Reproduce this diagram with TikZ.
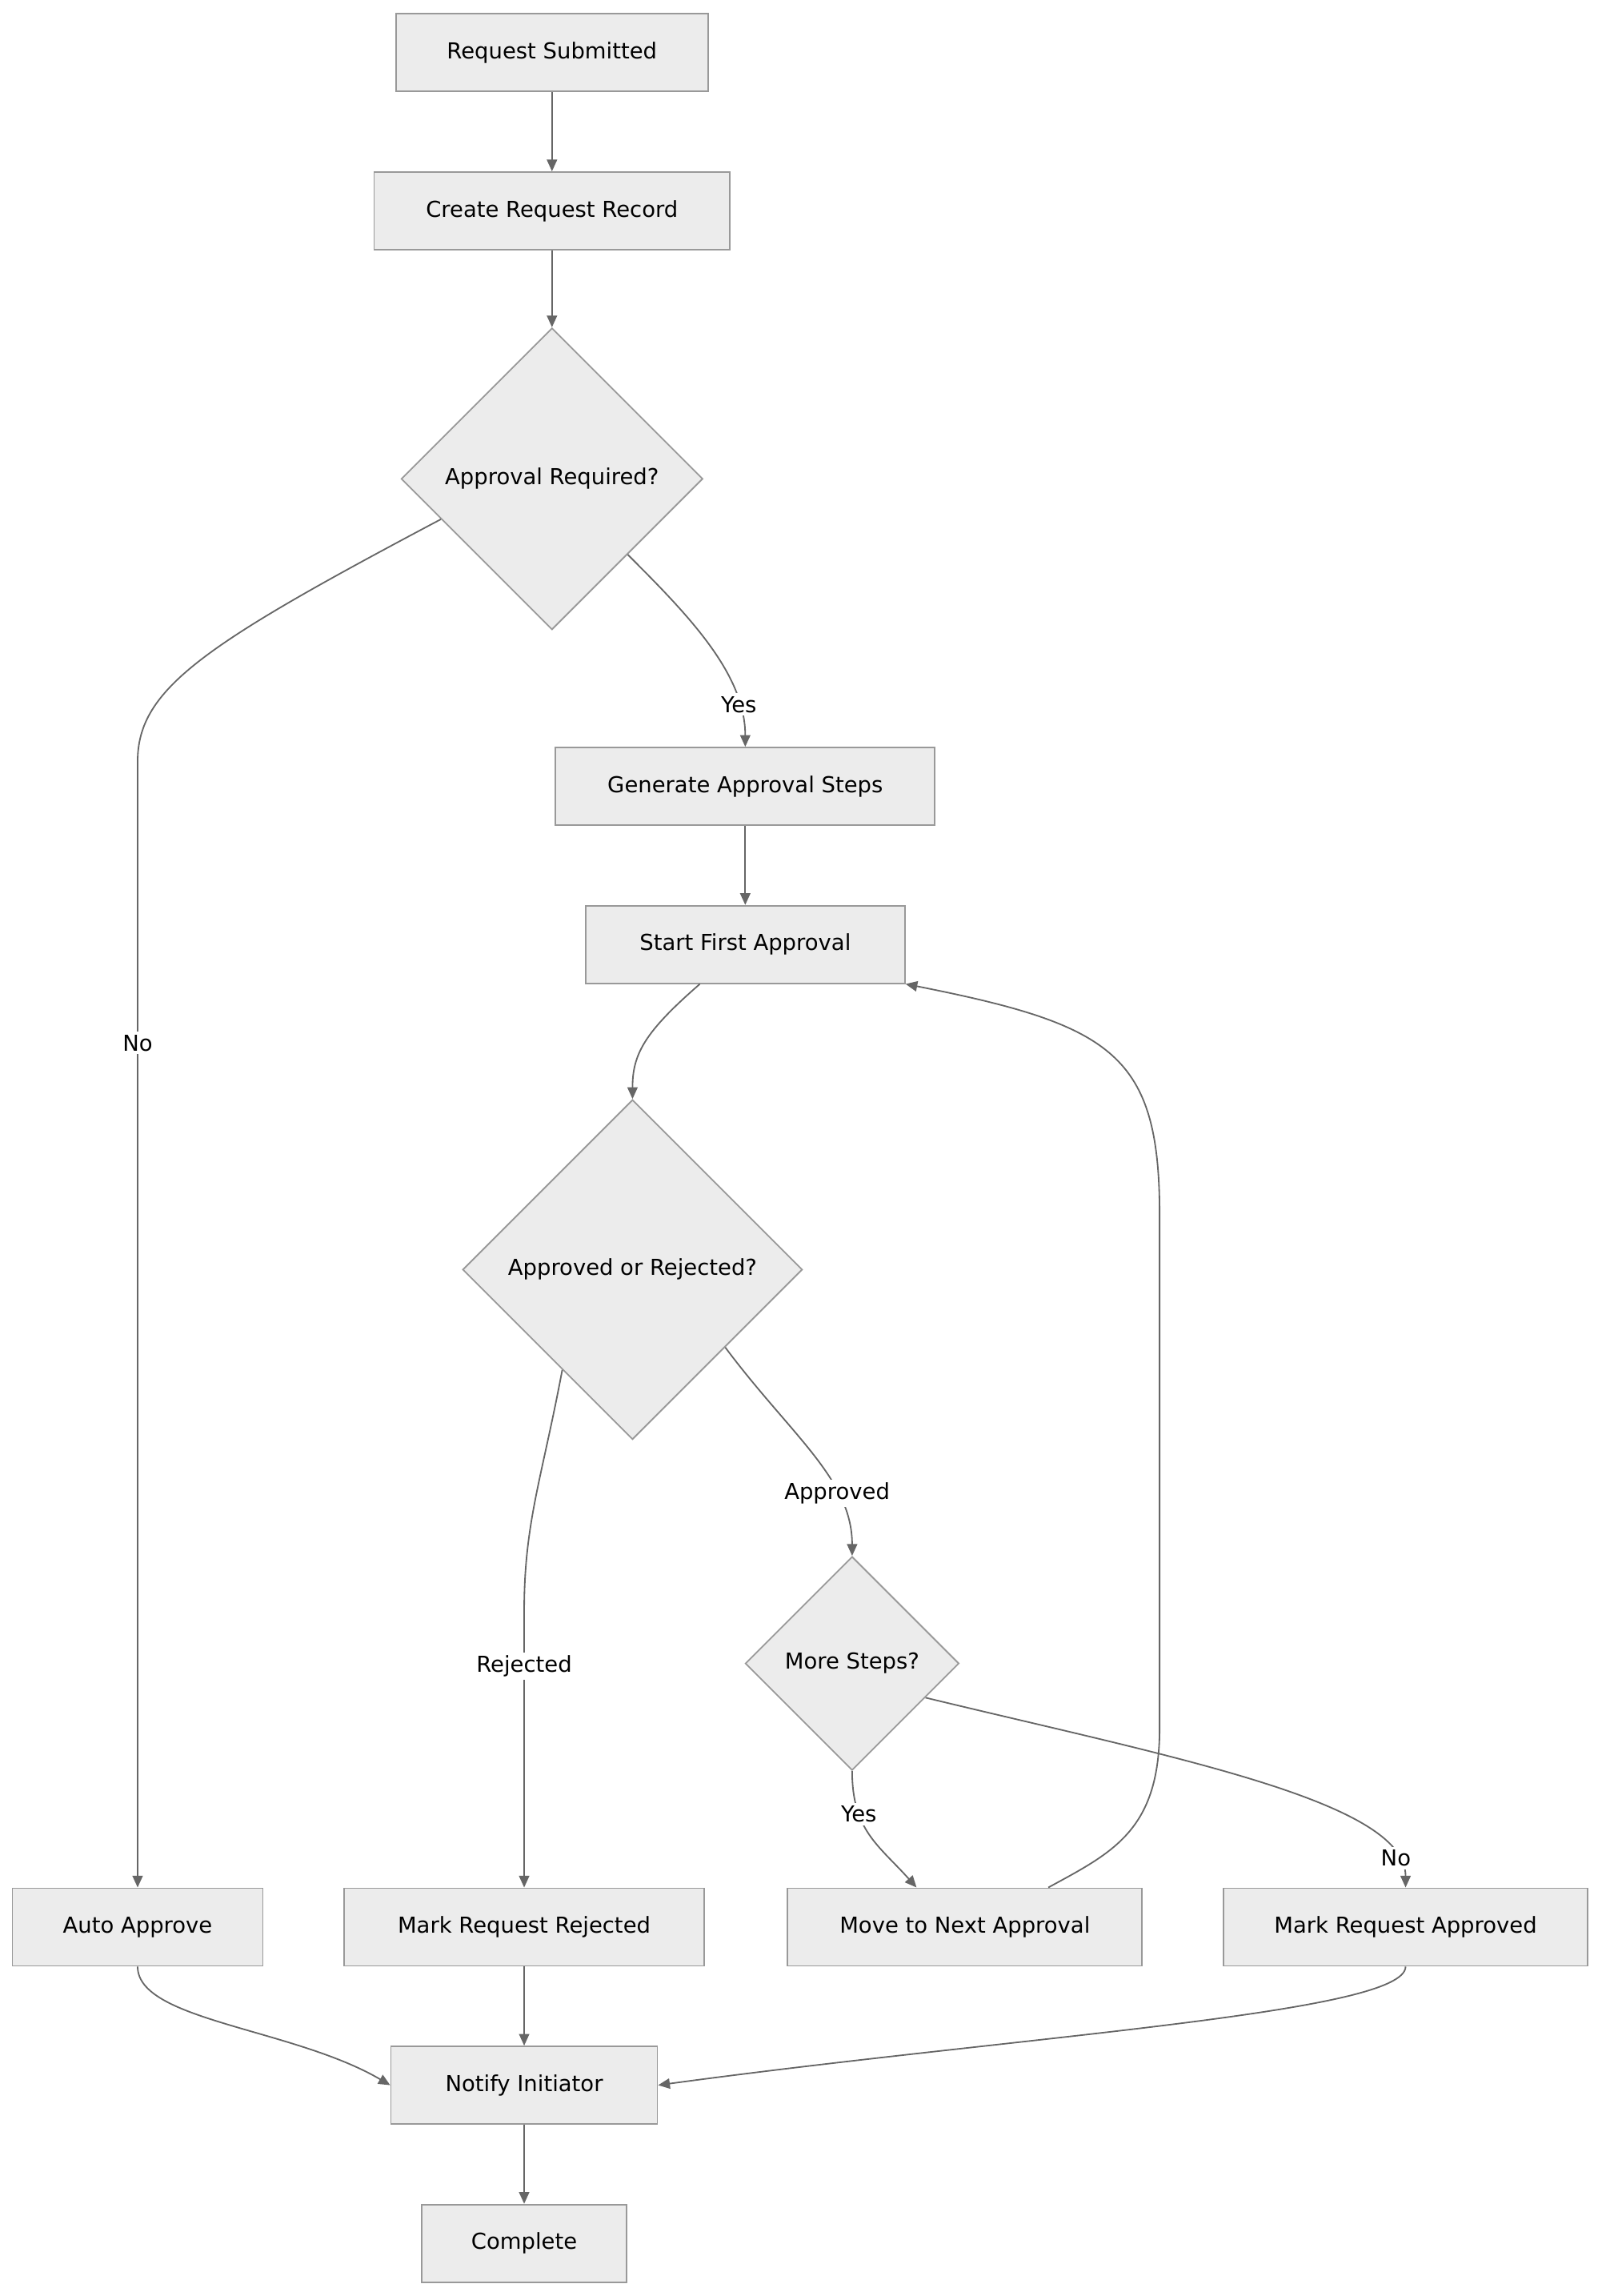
\documentclass[tikz,border=0pt]{standalone}
\usepackage{fontspec}
\setmainfont{DejaVu Sans}
\usetikzlibrary{shapes.geometric,arrows.meta}
\definecolor{boxfill}{HTML}{ECECEC}
\definecolor{boxline}{HTML}{999999}
\definecolor{edgeline}{HTML}{666666}
\tikzset{
  task/.style={rectangle, draw=boxline, fill=boxfill, line width=1pt, minimum height=53, inner sep=0pt, font=\fontsize{15}{18}\selectfont},
  check/.style={diamond, draw=boxline, fill=boxfill, line width=1pt, inner sep=0pt, font=\fontsize{15}{18}\selectfont},
  flow/.style={draw=edgeline, line width=1pt, -{Triangle[length=8pt,width=7pt]}},
  tag/.style={fill=white, inner sep=2pt, font=\fontsize{15}{18}\selectfont}
}
\begin{document}
\begin{tikzpicture}[x=1pt,y=-1pt]
  \useasboundingbox (0,0) rectangle (1094,1568);
  \node[task, minimum width=213] (submitted) at (377,36) {Request Submitted};
  \node[task, minimum width=243] (record) at (377,144) {Create Request Record};
  \node[check, minimum width=206, minimum height=206] (required) at (377,327) {Approval Required?};
  \node[task, minimum width=259] (steps) at (509,537) {Generate Approval Steps};
  \node[task, minimum width=218] (first) at (509,645) {Start First Approval};
  \node[check, minimum width=232, minimum height=232] (decision) at (432,867) {Approved or Rejected?};
  \node[check, minimum width=146, minimum height=146] (more) at (582,1136) {More Steps?};
  \node[task, minimum width=171] (auto) at (94,1316) {Auto Approve};
  \node[task, minimum width=246] (rejected) at (358,1316) {Mark Request Rejected};
  \node[task, minimum width=242] (next) at (659,1316) {Move to Next Approval};
  \node[task, minimum width=249] (approved) at (960,1316) {Mark Request Approved};
  \node[task, minimum width=182] (notify) at (358,1424) {Notify Initiator};
  \node[task, minimum width=140] (complete) at (358,1532) {Complete};

  \draw[flow] (submitted) -- (record);
  \draw[flow] (record) -- (required);
  \draw[flow] (required.-160) .. controls (140,440) and (94,470) .. (94,520) -- node[tag, pos=0.25] {No} (auto.north);
  \draw[flow] (required.-45) .. controls (470,420) and (509,460) .. node[tag, pos=0.8] {Yes} (steps.north);
  \draw[flow] (steps) -- (first);
  \draw[flow] ([xshift=-31pt]first.south) .. controls (440,705) and (432,720) .. (decision.north);
  \draw[flow] (decision.-125) .. controls (370,1010) and (358,1040) .. (358,1100) -- node[tag, pos=0.2] {Rejected} (rejected.north);
  \draw[flow] (decision.-40) .. controls (540,980) and (582,1010) .. node[tag, pos=0.7] {Approved} (more.north);
  \draw[flow] (more.south) .. controls (582,1250) and (600,1260) .. node[tag, pos=0.3] {Yes} ([xshift=-33pt]next.north);
  \draw[flow] (more.-25) .. controls (800,1200) and (960,1230) .. node[tag, pos=0.88] {No} (approved.north);
  \draw[flow] ([xshift=57pt]next.north) .. controls (760,1265) and (792,1250) .. (792,1180) -- (792,830) .. controls (792,720) and (760,700) .. (first.south east);
  \draw[flow] (auto.south) .. controls (94,1380) and (200,1385) .. (notify.west);
  \draw[flow] (rejected) -- (notify);
  \draw[flow] (approved.south) .. controls (960,1375) and (700,1390) .. (notify.east);
  \draw[flow] (notify) -- (complete);
\end{tikzpicture}
\end{document}
